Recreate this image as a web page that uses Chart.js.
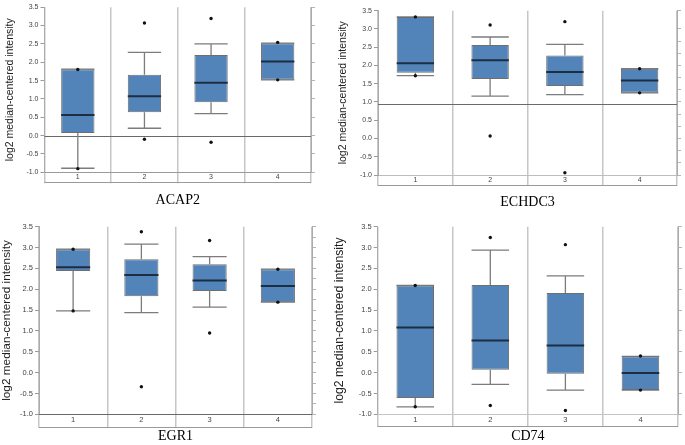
<!DOCTYPE html>
<html>
<head>
<meta charset="utf-8">
<script src="https://cdn.jsdelivr.net/npm/chart.js@4"></script>
<style>
  body { margin: 0; background: #fff; width: 685px; height: 445px; position: relative; overflow: hidden; }
  .panel { position: absolute; }
</style>
</head>
<body>
<div class="panel" style="left:0;top:0;width:330px;height:215px"><canvas id="c1"></canvas></div>
<div class="panel" style="left:330px;top:0;width:355px;height:215px"><canvas id="c2"></canvas></div>
<div class="panel" style="left:0;top:215px;width:330px;height:230px"><canvas id="c3"></canvas></div>
<div class="panel" style="left:330px;top:215px;width:355px;height:230px"><canvas id="c4"></canvas></div>
<script>
// カテゴリと軸
const categories = ['1', '2', '3', '4'];
const yMin = -1.0;
const yMax = 3.5;
const yStep = 0.5;

// ACAP2
const acap2Q1 = [0.07, 0.64, 0.91, 1.52];
const acap2Q3 = [1.81, 1.66, 2.20, 2.52];
const acap2Median = [0.56, 1.07, 1.44, 2.02];
const acap2Low = [-0.89, 0.20, 0.60, 1.52];
const acap2High = [1.81, 2.27, 2.50, 2.52];
const acap2PtHigh = [1.80, 3.07, 3.19, 2.54];
const acap2PtLow = [-0.90, -0.10, -0.18, 1.52];

// ECHDC3
const echdc3Q1 = [1.80, 1.63, 1.44, 1.25];
const echdc3Q3 = [3.33, 2.56, 2.27, 1.91];
const echdc3Median = [2.06, 2.14, 1.82, 1.59];
const echdc3Low = [1.72, 1.16, 1.20, 1.25];
const echdc3High = [3.33, 2.78, 2.58, 1.91];
const echdc3PtHigh = [3.33, 3.11, 3.20, 1.91];
const echdc3PtLow = [1.72, 0.07, -0.94, 1.25];

// EGR1
const egr1Q1 = [2.44, 1.83, 1.96, 1.69];
const egr1Q3 = [2.96, 2.72, 2.60, 2.48];
const egr1Median = [2.53, 2.34, 2.21, 2.08];
const egr1Low = [1.48, 1.44, 1.57, 1.69];
const egr1High = [2.96, 3.08, 2.78, 2.48];
const egr1PtHigh = [2.96, 3.38, 3.17, 2.48];
const egr1PtLow = [1.48, -0.34, 0.95, 1.69];

// CD74
const cd74Q1 = [-0.61, 0.07, -0.03, -0.42];
const cd74Q3 = [2.09, 2.10, 1.91, 0.39];
const cd74Median = [1.08, 0.77, 0.65, -0.01];
const cd74Low = [-0.82, -0.28, -0.42, -0.42];
const cd74High = [2.09, 2.94, 2.32, 0.39];
const cd74PtHigh = [2.09, 3.24, 3.07, 0.40];
const cd74PtLow = [-0.82, -0.79, -0.91, -0.42];

// 基準線の値
const acap2Ref = 0.0;
const echdc3Ref = 0.95;
const egr1Ref = -1.0;
const cd74Ref = -1.0;

// ひげと中央値を描くプラグイン
const boxExtras = {
    id: 'boxExtras',
    beforeDatasetsDraw(chart, args, opts) {
        const { ctx, chartArea } = chart;
        const y = chart.scales.y;
        ctx.save();
        // 基準線
        const ry = Math.round(y.getPixelForValue(opts.ref)) + 0.5;
        ctx.strokeStyle = opts.refColor;
        ctx.lineWidth = 1;
        ctx.beginPath();
        ctx.moveTo(chartArea.left, ry);
        ctx.lineTo(chartArea.right, ry);
        ctx.stroke();
        // ひげ
        const meta = chart.getDatasetMeta(2);
        ctx.strokeStyle = '#7c7c7c';
        ctx.lineWidth = 1.3;
        meta.data.forEach((bar, i) => {
            const cx = bar.x;
            const half = bar.width / 2;
            const yQ1 = y.getPixelForValue(opts.q1[i]);
            const yQ3 = y.getPixelForValue(opts.q3[i]);
            const yLo = y.getPixelForValue(opts.low[i]);
            const yHi = y.getPixelForValue(opts.high[i]);
            ctx.beginPath();
            ctx.moveTo(cx, yQ1); ctx.lineTo(cx, yLo);
            ctx.moveTo(cx - half, yLo); ctx.lineTo(cx + half, yLo);
            ctx.moveTo(cx, yQ3); ctx.lineTo(cx, yHi);
            ctx.moveTo(cx - half, yHi); ctx.lineTo(cx + half, yHi);
            ctx.stroke();
        });
        ctx.restore();
    },
    afterDatasetDraw(chart, args, opts) {
        if (args.meta.type !== 'bar') return;
        const { ctx } = chart;
        const y = chart.scales.y;
        ctx.save();
        ctx.strokeStyle = '#1d2d42';
        ctx.lineWidth = 2;
        args.meta.data.forEach((bar, i) => {
            const half = bar.width / 2;
            const my = y.getPixelForValue(opts.median[i]);
            ctx.beginPath();
            ctx.moveTo(bar.x - half, my);
            ctx.lineTo(bar.x + half, my);
            ctx.stroke();
        });
        ctx.restore();
    },
    afterDraw(chart) {
        // 下の帯の枠線
        const { ctx, chartArea } = chart;
        const x = chart.scales.x;
        const by = Math.round(x.bottom) - 0.5;
        ctx.save();
        ctx.strokeStyle = '#9a9a9a';
        ctx.lineWidth = 1;
        ctx.beginPath();
        ctx.moveTo(chartArea.left, by);
        ctx.lineTo(chartArea.right, by);
        ctx.stroke();
        ctx.restore();
    }
};

function makeChart(id, gene, box, L) {
    const ctx = document.getElementById(id).getContext('2d');
    const tickFont = { family: 'Liberation Sans, Arial, sans-serif', size: L.tickSize };
    new Chart(ctx, {
        type: 'bar',
        data: {
            labels: categories,
            datasets: [
                {
                    type: 'line', data: box.ptHigh, showLine: false, order: 1,
                    pointRadius: 1.7, pointBackgroundColor: '#111', pointBorderWidth: 0
                },
                {
                    type: 'line', data: box.ptLow, showLine: false, order: 1,
                    pointRadius: 1.7, pointBackgroundColor: '#111', pointBorderWidth: 0
                },
                {
                    type: 'bar', order: 3,
                    data: box.q1.map((v, i) => [v, box.q3[i]]),
                    backgroundColor: '#5384b9',
                    borderColor: '#6e6e6e',
                    borderWidth: 1,
                    borderSkipped: false,
                    categoryPercentage: 1,
                    barPercentage: 0.5
                }
            ]
        },
        options: {
            responsive: true,
            maintainAspectRatio: false,
            animation: false,
            layout: { padding: { top: L.padTop, right: L.padRight, left: 0, bottom: 0 } },
            scales: {
                x: {
                    afterFit(s) { s.height = L.stripH; },
                    border: { display: true, color: L.baseColor, width: 1 },
                    grid: { offset: true, color: '#c6c6c6', lineWidth: 1.5, tickLength: L.stripH, drawTicks: true },
                    ticks: { padding: -L.stripH + 1, color: '#444', font: tickFont }
                },
                y: {
                    min: yMin, max: yMax,
                    afterFit(s) { s.width = L.yWidth; },
                    border: { display: true, color: '#ababab', width: 1 },
                    grid: { drawOnChartArea: false, tickLength: 4, color: '#9a9a9a' },
                    ticks: {
                        stepSize: yStep, padding: 2, color: '#444', font: tickFont,
                        callback: v => v.toFixed(1)
                    },
                    title: {
                        display: true,
                        text: 'log2 median-centered intensity',
                        color: '#222',
                        font: { family: 'Liberation Sans, Arial, sans-serif', size: L.titleSize },
                        padding: { top: L.titlePad, bottom: 0 }
                    }
                },
                yr: {
                    position: 'right',
                    min: yMin, max: yMax,
                    afterFit(s) { s.width = 6; },
                    border: { display: true, color: '#ababab', width: 1 },
                    grid: { drawOnChartArea: false, tickLength: 4, color: '#b5b5b5' },
                    ticks: { stepSize: L.rStep, autoSkip: false, padding: 0, callback: () => '' }
                }
            },
            plugins: {
                legend: { display: false },
                tooltip: { enabled: false },
                title: {
                    display: true,
                    text: gene,
                    position: 'bottom',
                    fullSize: false,
                    color: '#000',
                    font: { family: 'Liberation Serif, Times New Roman, serif', size: 14, weight: 'normal' },
                    padding: { top: L.tTop, bottom: L.tBottom }
                },
                boxExtras: {
                    q1: box.q1, q3: box.q3, median: box.median,
                    low: box.low, high: box.high,
                    ref: box.ref, refColor: L.refColor
                }
            }
        },
        plugins: [boxExtras]
    });
}

makeChart('c1', 'ACAP2',
    { q1: acap2Q1, q3: acap2Q3, median: acap2Median, low: acap2Low, high: acap2High,
      ptHigh: acap2PtHigh, ptLow: acap2PtLow, ref: acap2Ref },
    { padTop: 3.3, padRight: 13, yWidth: 44.5, stripH: 11, tTop: 8.6, tBottom: 6.3,
      tickSize: 7, titleSize: 10.5, titlePad: 3.7, rStep: 0.5, baseColor: '#9a9a9a', refColor: '#6a6a6a' });

makeChart('c2', 'ECHDC3',
    { q1: echdc3Q1, q3: echdc3Q3, median: echdc3Median, low: echdc3Low, high: echdc3High,
      ptHigh: echdc3PtHigh, ptLow: echdc3PtLow, ref: echdc3Ref },
    { padTop: 10.7, padRight: 2, yWidth: 48, stripH: 11, tTop: 7.6, tBottom: 4.6,
      tickSize: 7, titleSize: 10.5, titlePad: 7, rStep: 1 / 3, baseColor: '#bdbdbd', refColor: '#6a6a6a' });

makeChart('c3', 'EGR1',
    { q1: egr1Q1, q3: egr1Q3, median: egr1Median, low: egr1Low, high: egr1High,
      ptHigh: egr1PtHigh, ptLow: egr1PtLow, ref: egr1Ref },
    { padTop: 11.7, padRight: 12, yWidth: 39, stripH: 13.4, tTop: 0.5, tBottom: 0,
      tickSize: 7.5, titleSize: 11.8, titlePad: 0, rStep: 0.25, baseColor: '#6a6a6a', refColor: '#6a6a6a' });

makeChart('c4', 'CD74',
    { q1: cd74Q1, q3: cd74Q3, median: cd74Median, low: cd74Low, high: cd74High,
      ptHigh: cd74PtHigh, ptLow: cd74PtLow, ref: cd74Ref },
    { padTop: 11.7, padRight: 1, yWidth: 47.7, stripH: 12.7, tTop: 1.2, tBottom: 0,
      tickSize: 7.5, titleSize: 12.2, titlePad: 2.1, rStep: 0.5, baseColor: '#c4c4c4', refColor: '#c4c4c4' });
</script>
</body>
</html>
